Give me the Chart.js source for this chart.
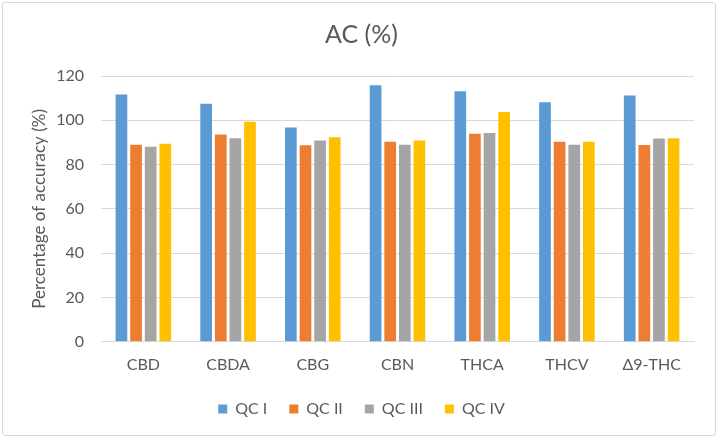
<!DOCTYPE html>
<html>
<head>
<meta charset="utf-8">
<script src="https://cdn.jsdelivr.net/npm/chart.js@4/dist/chart.umd.min.js"></script>
<style>
  body { margin: 0; background: #fff; }
  #box { position: absolute; left: 2px; top: 2px; width: 712px; height: 432px; border: 1px solid #d9d9d9; border-radius: 3px; }
</style>
</head>
<body>
<div id="box"><canvas id="chart"></canvas></div>
<script>
// categories and series
var analytes = ['CBD', 'CBDA', 'CBG', 'CBN', 'THCA', 'THCV', 'Δ9-THC'];
var qc1 = [111.6, 107.5, 96.7, 115.8, 113.1, 108.2, 111.2];
var qc2 = [89.0, 93.6, 88.7, 90.3, 93.9, 90.3, 88.8];
var qc3 = [88.1, 91.9, 90.9, 89.0, 94.3, 89.0, 91.8];
var qc4 = [89.4, 99.3, 92.4, 90.9, 103.7, 90.3, 91.9];
var yTicks = [0, 20, 40, 60, 80, 100, 120];

var font = 'Lato, sans-serif';
var textColor = '#595959';

function series(label, values, color) {
    return {
        label: label,
        data: values,
        backgroundColor: color,
        borderWidth: 0,
        categoryPercentage: 0.69,
        barPercentage: 0.8
    };
}

new Chart(document.getElementById('chart'), {
    type: 'bar',
    data: {
        labels: analytes,
        datasets: [
            series('QC I', qc1, '#5B9BD5'),
            series('QC II', qc2, '#ED7D31'),
            series('QC III', qc3, '#A5A5A5'),
            series('QC IV', qc4, '#FFC000')
        ]
    },
    options: {
        responsive: true,
        maintainAspectRatio: false,
        animation: false,
        layout: { padding: { left: 26, right: 21, top: 5, bottom: 8 } },
        plugins: {
            title: {
                display: true,
                text: 'AC (%)',
                color: textColor,
                font: { family: font, size: 25, weight: 'normal' },
                padding: { top: 12, bottom: 26 }
            },
            legend: {
                position: 'bottom',
                labels: {
                    color: textColor,
                    font: { family: font, size: 16 },
                    boxWidth: 9,
                    boxHeight: 9,
                    padding: 22
                }
            },
            tooltip: { enabled: false }
        },
        scales: {
            x: {
                grid: { display: false },
                border: { color: '#d9d9d9' },
                ticks: { color: textColor, font: { family: font, size: 16 }, padding: 5 }
            },
            y: {
                min: 0,
                max: 120,
                afterBuildTicks: function(axis) {
                    axis.ticks = yTicks.map(function(v) { return { value: v }; });
                },
                afterFit: function(axis) { axis.width = 72; },
                grid: { color: '#d9d9d9', drawTicks: false },
                border: { display: false },
                ticks: { color: textColor, font: { family: font, size: 16 }, padding: 17 },
                title: {
                    display: true,
                    text: 'Percentage of accuracy (%)',
                    color: textColor,
                    font: { family: font, size: 17 },
                    padding: { top: 0, bottom: 4 }
                }
            }
        }
    }
});
</script>
</body>
</html>
